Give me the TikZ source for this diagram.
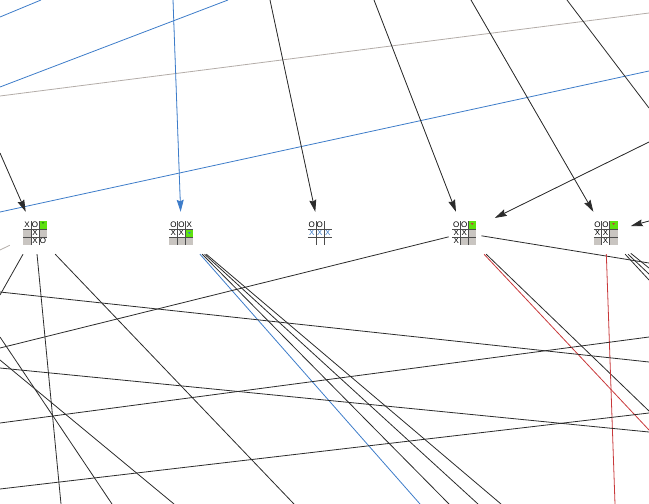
\documentclass[tikz,border=0pt]{standalone}
\usepackage{fontspec}
\setsansfont{Liberation Sans}
\usetikzlibrary{arrows.meta, positioning}

\definecolor{edgeblack}{HTML}{2B2B2B}
\definecolor{edgeblue}{HTML}{3D7CC9}
\definecolor{edgered}{HTML}{C8383A}
\definecolor{edgegray}{HTML}{B3ACA8}
\definecolor{cellgray}{HTML}{C9C5C1}
\definecolor{cellgreen}{HTML}{5EE10F}
\definecolor{markgreen}{HTML}{2E8B14}

% one tic-tac-toe board drawn over an (empty) board node
\newcommand{\tttboard}[2]{%
  \begin{scope}[shift={(#1.center)}]
    \foreach \cfill/\ctext/\ccol [count=\i from 0] in {#2} {
      \pgfmathtruncatemacro{\col}{mod(\i,3)}
      \pgfmathtruncatemacro{\row}{int(\i/3)}
      \node[cell, fill=\cfill, text=\ccol] at (\col*8-8, \row*8-8) {\ctext};
    }
    \draw[gridline] (-4,-12) -- (-4,12) (4,-12) -- (4,12)
                    (-12,-4) -- (12,-4) (-12,4) -- (12,4);
  \end{scope}
}
\newcommand{\tttmark}[4]{%
  \fill[#4] ([shift={(#2-1.5,#3-1)}]#1.center) -- ++(3,0) -- ++(-1.5,2) -- cycle;
}

\begin{document}
\begin{tikzpicture}[
    x=1pt, y=-1pt,
    board/.style={minimum width=50pt, minimum height=42pt, inner sep=0pt},
    cell/.style={minimum size=8pt, inner sep=0pt, font=\sffamily\fontsize{8}{8}\selectfont},
    gridline/.style={draw=black!70, line width=0.6pt},
    edge/.style={draw=edgeblack, line width=0.8pt},
    arrow/.style={edge, -{Stealth[length=12pt, width=7pt, inset=1.5pt]}}
  ]
    \useasboundingbox (0,0) rectangle (649,504);

    \node[board] at (35,233) (b1) {};
    \node[board, right=96pt of b1] (b2) {};
    \node[board, right=88pt of b2] (b3) {};
    \node[board, right=94pt of b3] (b4) {};
    \node[board, right=91pt of b4] (b5) {};

    % free ends on the frame
    \coordinate (lA) at (0,17);    \coordinate (tA) at (41,0);
    \coordinate (lB) at (0,87);    \coordinate (tB) at (228,0);
    \coordinate (tC) at (173,0);
    \coordinate (lD) at (0,96);    \coordinate (rD) at (649,13);
    \coordinate (lE) at (0,212);   \coordinate (rE) at (649,71);
    \coordinate (lF) at (0,153);
    \coordinate (tG) at (270,0);
    \coordinate (tH) at (374,0);
    \coordinate (tI) at (471,0);
    \coordinate (tJ) at (567,0);   \coordinate (rJ) at (649,108);
    \coordinate (rK) at (649,142);
    \coordinate (rL) at (649,221);
    \coordinate (l1) at (0,250);
    \coordinate (l2) at (0,295);
    \coordinate (l3) at (0,292);   \coordinate (r3) at (649,362);
    \coordinate (d4) at (61,504);
    \coordinate (d5) at (294,504);
    \coordinate (l6) at (0,348);
    \coordinate (r7) at (649,263);
    \coordinate (l8) at (0,337);   \coordinate (d8) at (112,504);
    \coordinate (l9) at (0,360);   \coordinate (d9) at (174,504);
    \coordinate (l10) at (0,368);  \coordinate (r10) at (649,432);
    \coordinate (l11) at (0,423);  \coordinate (r11) at (649,337);
    \coordinate (l12) at (0,489);  \coordinate (r12) at (649,413);
    \coordinate (d13) at (420,504);
    \coordinate (d14) at (449,504);
    \coordinate (d15) at (478,504);
    \coordinate (d16) at (501,504);
    \coordinate (r17) at (649,430);
    \coordinate (r18) at (649,411);
    \coordinate (d19) at (615,504);
    \coordinate (r20) at (649,268);
    \coordinate (r21) at (649,274);
    \coordinate (r22) at (649,280);

    % edges into the boards
    \draw[edge, draw=edgeblue] (lA) -- (tA);
    \draw[edge, draw=edgeblue] (lB) -- (tB);
    \draw[edge, draw=edgegray] (lD) -- (rD);
    \draw[edge, draw=edgeblue] (lE) -- (rE);
    \draw[edge] (tJ) -- (rJ);
    \draw[arrow, draw=edgeblue, fill=edgeblue] (tC) -- (b2);
    \draw[arrow, fill=edgeblack] (lF) -- (b1);
    \draw[arrow, fill=edgeblack] (tG) -- (b3);
    \draw[arrow, fill=edgeblack] (tH) -- (b4);
    \draw[arrow, fill=edgeblack] (tI) -- (b5);
    \draw[arrow, fill=edgeblack, shorten >=6pt] (rK) -- (b4);
    \draw[arrow, fill=edgeblack] (rL) -- (b5);

    % edges out of the boards
    \draw[edge, draw=edgegray] (b1) -- (l1);
    \draw[edge] (b1) -- (l2);
    \draw[edge] (b1) -- (d4);
    \draw[edge] (b1) -- (d5);
    \draw[edge] (b2) -- (d14);
    \draw[edge] (b2) -- (d15);
    \draw[edge] (b2) -- (d16);
    \draw[edge, draw=edgeblue] (b2) -- (d13);
    \draw[edge, shorten <=-10pt] (b4) -- (l6);
    \draw[edge, shorten <=-8pt] (b4) -- (r7);
    \draw[edge] (b4) -- (r18);
    \draw[edge, draw=edgered] (b4) -- (r17);
    \draw[edge, draw=edgered] (b5) -- (d19);
    \draw[edge] (b5) -- (r20);
    \draw[edge] (b5) -- (r21);
    \draw[edge] (b5) -- (r22);

    % edges passing through
    \draw[edge] (l3) -- (r3);
    \draw[edge] (l8) -- (d8);
    \draw[edge] (l9) -- (d9);
    \draw[edge] (l10) -- (r10);
    \draw[edge] (l11) -- (r11);
    \draw[edge] (l12) -- (r12);

    % the boards
    \tttboard{b1}{white/X/black, white/O/black, cellgreen//black,
                  cellgray//black, white/X/black, cellgray//black,
                  cellgray//black, white/X/black, white/O/black}
    \tttmark{b1}{8}{-10}{markgreen}
    \tttboard{b2}{white/O/black, white/O/black, white/X/black,
                  white/X/black, white/X/black, cellgreen//black,
                  cellgray//black, cellgray//black, cellgray//black}
    \tttmark{b2}{8}{0}{edgeblue}
    \tttboard{b3}{white/O/black, white/O/black, white//black,
                  white/X/edgeblue, white/X/edgeblue, white/X/edgeblue,
                  white//black, white//black, white//black}
    \tttboard{b4}{white/O/black, white/O/black, cellgreen//black,
                  white/X/black, white/X/black, cellgray//black,
                  white/X/black, cellgray//black, cellgray//black}
    \tttmark{b4}{8}{-9}{edgered}
    \tttboard{b5}{white/O/black, white/O/black, cellgreen//black,
                  white/X/black, white/X/black, cellgray//black,
                  cellgray//black, white/X/black, cellgray//black}
    \tttmark{b5}{8}{-9}{edgered}
  \end{tikzpicture}
\end{document}
